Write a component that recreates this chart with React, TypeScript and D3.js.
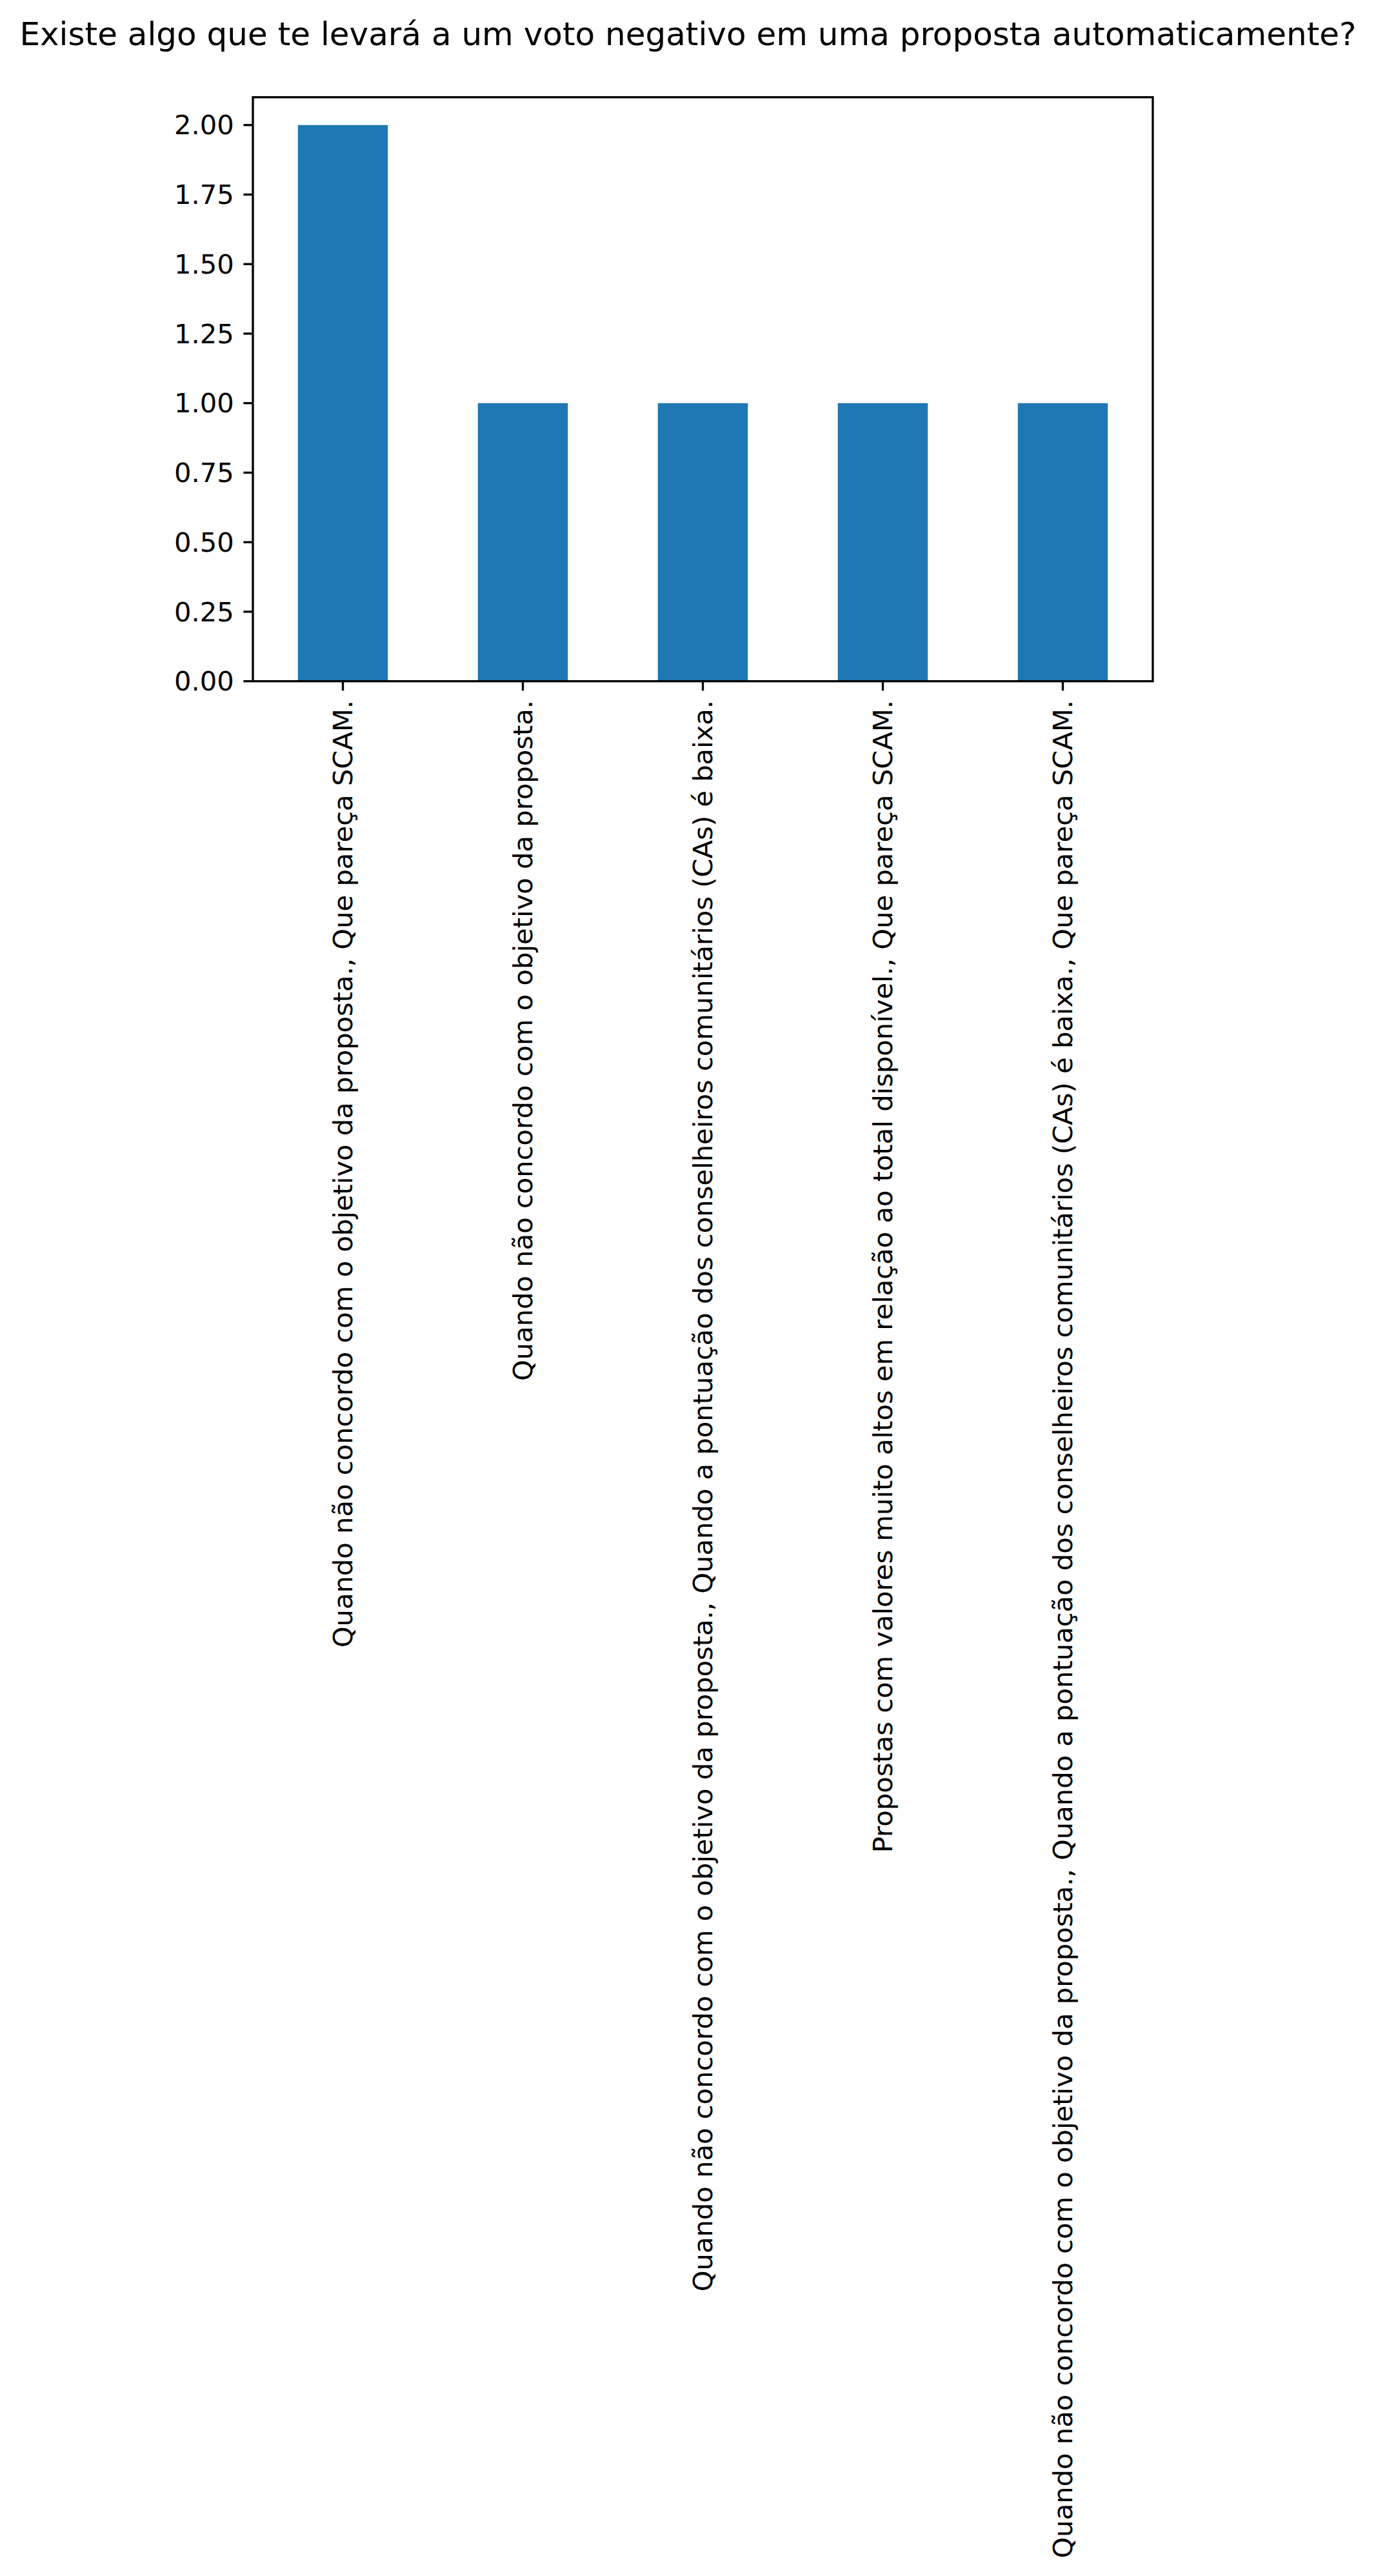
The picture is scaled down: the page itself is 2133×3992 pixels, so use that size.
import React from "react";
import * as d3 from "d3";

const title = "Existe algo que te levará a um voto negativo em uma proposta automaticamente?";
const categories = [
  "Quando não concordo com o objetivo da proposta., Que pareça SCAM.",
  "Quando não concordo com o objetivo da proposta.",
  "Quando não concordo com o objetivo da proposta., Quando a pontuação dos conselheiros comunitários (CAs) é baixa.",
  "Propostas com valores muito altos em relação ao total disponível., Que pareça SCAM.",
  "Quando não concordo com o objetivo da proposta., Quando a pontuação dos conselheiros comunitários (CAs) é baixa., Que pareça SCAM.",
];
const values = [2, 1, 1, 1, 1];
const yTicks = [0, 0.25, 0.5, 0.75, 1.0, 1.25, 1.5, 1.75, 2.0];

const W = 2133;
const H = 3992;
const left = 392;
const right = 1787;
const top = 150.7;
const bottom = 1055.7;
const font = "'DejaVu Sans', sans-serif";
const tickFs = 41.67;
const tickLen = 14.6;
const pad = 14.6;
const lw = 3.33;

export default function App() {
  const x = d3.scaleBand<number>().domain(d3.range(categories.length)).range([left, right]).paddingInner(0.5).paddingOuter(0.25);
  const y = d3.scaleLinear().domain([0, 2.1]).range([bottom, top]);
  const fmt = d3.format(".2f");
  return (
    <svg width={W} height={H} style={{ position: "absolute", left: 0, top: 0, background: "#fff" }} xmlns="http://www.w3.org/2000/svg">
      <rect x={0} y={0} width={W} height={H} fill="#fff" />
      <text x={W / 2} y={70} textAnchor="middle" fontFamily={font} fontSize={50} fill="#000">{title}</text>
      {values.map((v, i) => (
        <rect key={i} x={x(i)} y={y(v)} width={x.bandwidth()} height={y(0) - y(v)} fill="#1f77b4" />
      ))}
      <rect x={left} y={top} width={right - left} height={bottom - top} fill="none" stroke="#000" strokeWidth={lw} strokeLinejoin="miter" />
      {yTicks.map((t) => (
        <g key={t}>
          <line x1={left - tickLen} x2={left} y1={y(t)} y2={y(t)} stroke="#000" strokeWidth={lw} />
          <text x={left - tickLen - pad} y={y(t)} dy="0.35em" textAnchor="end" fontFamily={font} fontSize={tickFs} fill="#000">{fmt(t)}</text>
        </g>
      ))}
      {categories.map((c, i) => {
        const cx = (x(i) as number) + x.bandwidth() / 2;
        const ty = bottom + tickLen + pad;
        return (
          <g key={i}>
            <line x1={cx} x2={cx} y1={bottom} y2={bottom + tickLen} stroke="#000" strokeWidth={lw} />
            <text transform={`translate(${cx},${ty}) rotate(-90)`} dy="0.35em" textAnchor="end" fontFamily={font} fontSize={tickFs} fill="#000">{c}</text>
          </g>
        );
      })}
    </svg>
  );
}
